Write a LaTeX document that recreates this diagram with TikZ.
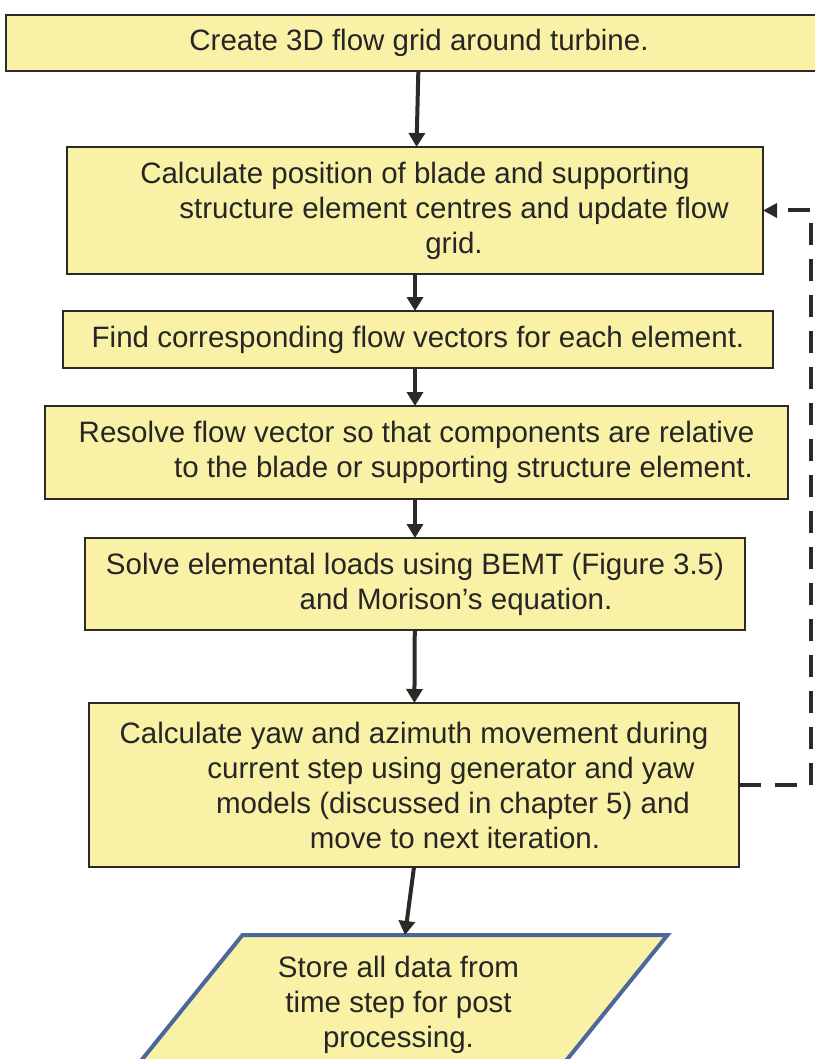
\documentclass[tikz,border=0pt]{standalone}
\usepackage{fontspec}
\setmainfont{Liberation Sans}
\usepackage{xcolor}
\usetikzlibrary{shapes.geometric,arrows.meta,positioning}
\definecolor{boxfill}{RGB}{249,241,165}
\definecolor{boxline}{RGB}{45,42,38}
\definecolor{storeline}{RGB}{74,104,156}
\newcommand{\contline}[1][80pt]{\hspace*{#1}}

\begin{document}
\begin{tikzpicture}[
  node distance=38pt,
  box/.style={rectangle, draw=boxline, line width=2.5pt, fill=boxfill,
              align=center, font=\fontsize{29.5}{35}\selectfont,
              text=black!85, inner sep=0pt, outer sep=0pt},
  store/.style={rectangle, align=center, font=\fontsize{29.5}{35}\selectfont,
              text=black!85, inner sep=0pt, outer sep=0pt,
              minimum width=425pt, minimum height=140pt},
  slant/.style={draw=storeline, line width=4pt, fill=boxfill, line join=miter},
  arr/.style={-{Triangle[length=14pt,width=16pt]}, line width=4pt, boxline},
  fback/.style={-{Triangle[length=14pt,width=14pt]}, line width=4pt, boxline,
              dash pattern=on 22pt off 14pt}
]
\useasboundingbox (0,0) rectangle (814pt,-1059pt);

%% Main flow nodes
\node[box, minimum width=826pt, minimum height=56pt] (grid) at (419pt,-43pt)
  {Create 3D flow grid around turbine.};
\node[box, minimum width=696pt, minimum height=127pt, below=76pt of grid, xshift=-4pt] (position)
  {Calculate position of blade and supporting\\
   \contline[78pt]structure element centres and update flow\\
   \contline[78pt]grid.};
\node[box, minimum width=710pt, minimum height=57pt, below=37pt of position, xshift=3pt] (vectors)
  {Find corresponding flow vectors for each element.};
\node[box, minimum width=743pt, minimum height=93pt, below=of vectors, xshift=-1.5pt] (resolve)
  {Resolve flow vector so that components are relative\\
   \contline[94pt]to the blade or supporting structure element.};
\node[box, minimum width=660pt, minimum height=92pt, below=39pt of resolve, xshift=-1.5pt] (loads)
  {Solve elemental loads using BEMT (Figure 3.5)\\
   \contline[82pt]and Morison's equation.};
\node[box, minimum width=650pt, minimum height=164pt, below=73pt of loads, xshift=-1pt] (yaw)
  {Calculate yaw and azimuth movement during\\
   \contline[74pt]current step using generator and yaw\\
   \contline[78pt]models (discussed in chapter 5) and\\
   \contline[82pt]move to next iteration.};

%% Output node (slanted frame drawn round it)
\node[store, below=68pt of yaw, xshift=-15.5pt] (store) {};
\draw[slant] ([xshift=56.5pt]store.north west) -- ([xshift=56.5pt]store.north east)
  -- ([xshift=-56.5pt]store.south east) -- ([xshift=-56.5pt]store.south west) -- cycle;
\node[store] at (store) {Store all data from\\time step for post\\processing.};

%% Main flow arrows
\draw[arr] (grid) -- (position);
\draw[arr] (position) -- (vectors.north -| position.south);
\draw[arr] (vectors.south -| position.south) -- (resolve.north -| position.south);
\draw[arr] (resolve.south -| loads.north) -- (loads);
\draw[arr] (loads) -- (yaw);
\draw[arr] (yaw.south) -- ([xshift=6.5pt]store.north);

%% Iteration loop
\draw[fback] (yaw.east) -- ++(72pt,0) |- (position.east);

\end{tikzpicture}
\end{document}
